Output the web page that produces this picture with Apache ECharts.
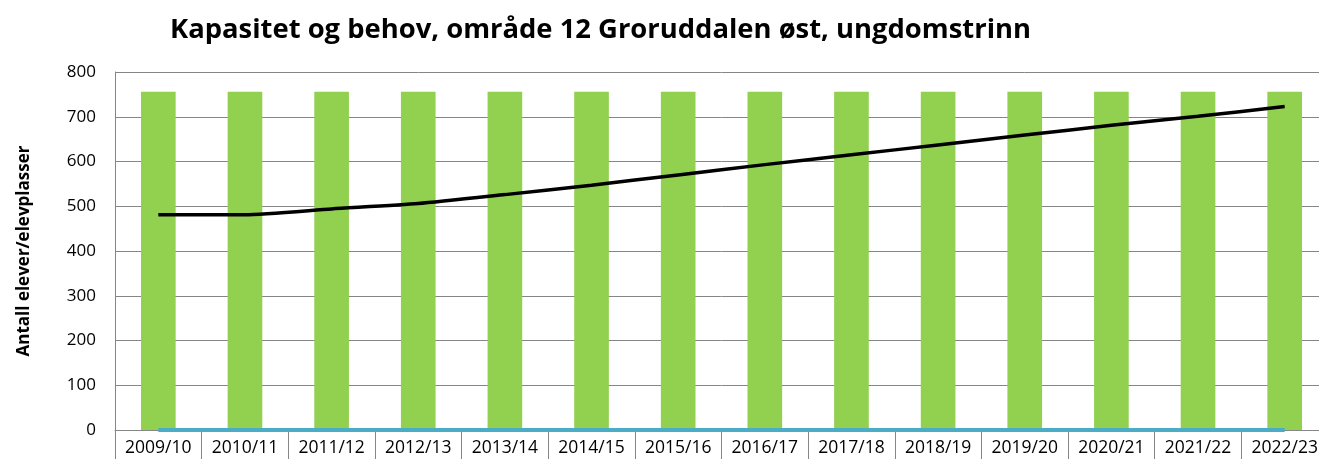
<!DOCTYPE html>
<html><head><meta charset="utf-8">
<script src="https://cdn.jsdelivr.net/npm/echarts@6/dist/echarts.min.js"></script>
<style>html,body{margin:0;padding:0;background:#fff;overflow:hidden;width:1319px;height:459px}#c{width:1330px;height:459px}</style>
</head><body><div id="c"></div>
<script>
const categories = ['2009/10','2010/11','2011/12','2012/13','2013/14','2014/15','2015/16','2016/17','2017/18','2018/19','2019/20','2020/21','2021/22','2022/23'];
const capacity = [756,756,756,756,756,756,756,756,756,756,756,756,756,756];
const demand = [481,481,494,506,526,547,570,593,615,637,659,681,701,723];
const zeroLine = [0,0,0,0,0,0,0,0,0,0,0,0,0,0];
const yTicks = [0,100,200,300,400,500,600,700,800];

const chart = echarts.init(document.getElementById('c'));
chart.setOption({
  animation:false,
  title:{text:'Kapasitet og behov, område 12 Groruddalen øst, ungdomstrinn',left:165,top:12,
    textStyle:{fontFamily:'Open Sans',fontWeight:'bold',fontSize:27.4,color:'#000'}},
  grid:{left:115,right:2,top:72,bottom:29},
  xAxis:{type:'category',data:categories,
    axisLine:{lineStyle:{color:'#868686',width:1}},
    axisTick:{show:true,alignWithLabel:false,length:29,inside:false,lineStyle:{color:'#868686'}},
    axisLabel:{color:'#000',fontFamily:'Open Sans',fontSize:17.5,margin:9}},
  yAxis:{type:'value',min:0,max:800,interval:100,
    name:'Antall elever/elevplasser',nameLocation:'middle',nameGap:82,nameRotate:90,
    nameTextStyle:{fontFamily:'Open Sans',fontWeight:'bold',fontSize:17,color:'#000'},
    axisLine:{show:true,lineStyle:{color:'#868686'}},
    axisTick:{show:false},
    axisLabel:{color:'#000',fontFamily:'Open Sans',fontSize:17,margin:19,
      formatter:v=>yTicks.includes(v)?String(v):''},
    splitLine:{lineStyle:{color:'#868686',width:1}}},
  series:[
    {type:'bar',data:capacity,barWidth:'40%',itemStyle:{color:'#92d050'}},
    {type:'line',data:zeroLine,symbol:'none',lineStyle:{color:'#4bacc6',width:4},z:3},
    {type:'line',data:demand,symbol:'none',smooth:0.2,lineStyle:{color:'#000',width:3.5},z:4}
  ]
});
</script></body></html>
